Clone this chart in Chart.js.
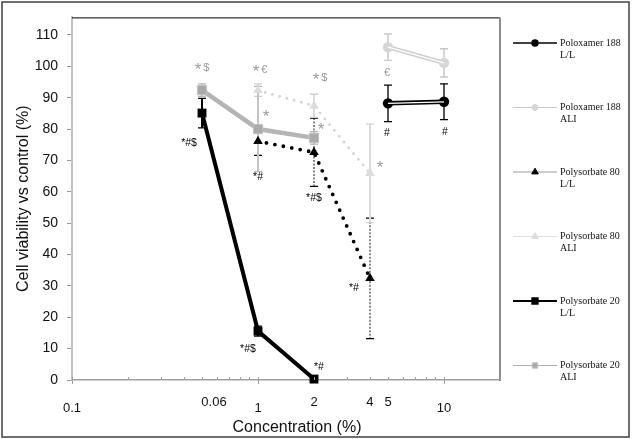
<!DOCTYPE html>
<html>
<head>
<meta charset="utf-8">
<title>Cell viability vs concentration</title>
<script src="https://cdn.jsdelivr.net/npm/chart.js@4.4.0/dist/chart.umd.js"></script>
<style>
    html, body { margin: 0; padding: 0; background: #fff; }
    canvas { display: block; }
</style>
</head>
<body>
<canvas id="viabilityChart" width="632" height="439"></canvas>
<script>
// Concentrations (%) per surfactant
var concP188 = [5, 10];
var concP80 = [1, 2, 4];
var concP20 = [0.5, 1, 2];

// Cell viability vs control (%) and error
var p188LL = [88.2, 88.7];
var p188LLErr = [5.8, 5.7];
var p188ALI = [106.1, 101.1];
var p188ALIErr = [4.2, 4.5];
var p80LL = [76.1, 72.6, 32.4];
var p80LLErr = [4.5, 10.9, 19.2];
var p80ALI = [92.4, 87.4, 65.9];
var p80ALIErr = [2, 3.7, 15.7];
var p20LL = [85.1, 15.6, 0.3];
var p20LLErr = [4.7, 1.6, 0];
var p20ALI = [92.4, 80.0, 77.2];
var p20ALIErr = [2, 13.6, 2];

// Axis ticks
var yTicks = [0, 10, 20, 30, 40, 50, 60, 70, 80, 90, 100, 110];
var xTickValues = [0.1, 0.58, 1, 2, 4, 5, 10];
var xTickLabels = ['0.1', '0.06', '1', '2', '4', '5', '10'];
var xTickRaised = [false, true, false, true, true, true, false];
var xMinorTicks = [0.2, 0.3, 0.4, 0.5, 0.6, 0.7, 0.8, 0.9, 2, 3, 4, 5, 6, 7, 8, 9, 20];
var xMajorTicks = [0.1, 1, 10];

// Significance marks next to points
var sigMarks = [
    { key: 'p20ALI', i: 0, text: '*$', dx: 0, dy: -22 },
    { key: 'p80ALI', i: 0, text: '*€', dx: 2, dy: -20 },
    { key: 'p20ALI', i: 1, text: '*', dx: 8, dy: -14 },
    { key: 'p80ALI', i: 1, text: '*$', dx: 6, dy: -28 },
    { key: 'p20ALI', i: 2, text: '*', dx: 7, dy: -10 },
    { key: 'p80ALI', i: 2, text: '*', dx: 10, dy: -7 },
    { key: 'p188ALI', i: 0, text: '€', dx: -1, dy: 26 },
    { key: 'p188LL', i: 0, text: '#', dx: -1, dy: 30 },
    { key: 'p188LL', i: 1, text: '#', dx: 1, dy: 30 },
    { key: 'p20LL', i: 0, text: '*#$', dx: -13, dy: 30 },
    { key: 'p80LL', i: 0, text: '*#', dx: 0, dy: 36 },
    { key: 'p80LL', i: 1, text: '*#$', dx: 0, dy: 46 },
    { key: 'p80LL', i: 2, text: '*#', dx: -16, dy: 10 },
    { key: 'p20LL', i: 1, text: '*#$', dx: -10, dy: 18 },
    { key: 'p20LL', i: 2, text: '*#', dx: 5, dy: -12 }
];

function pts(xs, ys) {
    return xs.map(function(x, i) { return { x: x, y: ys[i] }; });
}

var SANS = '"Liberation Sans", Arial, sans-serif';
var SERIF = '"Liberation Serif", "Times New Roman", serif';
var GREY_MARK = '#9a9a9a';

var datasets = [
    {
        key: 'p188LL', label: 'Poloxamer 188 L/L', data: pts(concP188, p188LL),
        errors: p188LLErr, errColor: '#555', errWidth: 2, capColor: '#000',
        borderColor: '#000', borderWidth: 4.5, pointStyle: 'circle', pointRadius: 5.2,
        pointBorderWidth: 0,
        pointBackgroundColor: '#000', pointBorderColor: '#000', order: 6,
        legendLine: '#000', legendWidth: 1.5, markColor: '#000'
    },
    {
        key: 'p188ALI', label: 'Poloxamer 188 ALI', data: pts(concP188, p188ALI),
        errors: p188ALIErr, errColor: '#d6d6d6', errWidth: 2, capColor: '#c8c8c8',
        borderColor: '#cfcfcf', borderWidth: 4.5, pointStyle: 'circle', pointRadius: 5.2,
        pointBorderWidth: 0,
        pointBackgroundColor: '#d6d6d6', pointBorderColor: '#d6d6d6', order: 6,
        legendLine: '#c8c8c8', legendWidth: 1, markColor: GREY_MARK
    },
    {
        key: 'p80LL', label: 'Polysorbate 80 L/L', data: pts(concP80, p80LL),
        errors: p80LLErr, errColor: '#8a8a8a', errWidth: 2, errDash: [2, 1.5], capColor: '#000',
        borderColor: '#000', borderWidth: 3.8, borderDash: [0, 8.6], borderCapStyle: 'round',
        pointStyle: 'triangle', pointRadius: 5.5, pointBorderWidth: 0,
        pointBackgroundColor: '#000', pointBorderColor: '#000', order: 3,
        legendLine: '#999', legendWidth: 1, markColor: '#000'
    },
    {
        key: 'p80ALI', label: 'Polysorbate 80 ALI', data: pts(concP80, p80ALI),
        errors: p80ALIErr, errColor: '#dadada', errWidth: 2, capColor: '#cfcfcf',
        borderColor: '#d6d6d6', borderWidth: 3, borderDash: [0, 7.5], borderCapStyle: 'round',
        pointStyle: 'triangle', pointRadius: 5.5, pointBorderWidth: 0,
        pointBackgroundColor: '#dcdcdc', pointBorderColor: '#dcdcdc', order: 5,
        legendLine: '#dedede', legendWidth: 1, markColor: GREY_MARK
    },
    {
        key: 'p20LL', label: 'Polysorbate 20 L/L', data: pts(concP20, p20LL),
        errors: p20LLErr, errColor: '#000', errWidth: 2, capColor: '#000',
        borderColor: '#000', borderWidth: 4, pointStyle: 'rect', pointRadius: 6.3,
        pointBorderWidth: 0,
        pointBackgroundColor: '#000', pointBorderColor: '#000', order: 1,
        legendLine: '#000', legendWidth: 2, markColor: '#000'
    },
    {
        key: 'p20ALI', label: 'Polysorbate 20 ALI', data: pts(concP20, p20ALI),
        errors: p20ALIErr, errColor: '#c4c4c4', errWidth: 2, capColor: '#b8b8b8',
        borderColor: '#b4b4b4', borderWidth: 4.5, pointStyle: 'rect', pointRadius: 6.5,
        pointBackgroundColor: '#aaaaaa', pointBorderColor: '#c2c2c2', pointBorderWidth: 1, order: 2,
        legendLine: '#b0b0b0', legendWidth: 1, markColor: GREY_MARK
    },
    // white core of the double lines of the Poloxamer series
    {
        key: 'p188LLcore', core: true, data: pts(concP188, p188LL),
        borderColor: '#fff', borderWidth: 1.3, pointRadius: 0, order: 0
    },
    {
        key: 'p188ALIcore', core: true, data: pts(concP188, p188ALI),
        borderColor: '#fff', borderWidth: 1.3, pointRadius: 0, order: 0
    }
];
datasets.forEach(function(ds) { ds.clip = false; ds.tension = 0; });

function findMeta(chart, key) {
    var idx = chart.data.datasets.findIndex(function(d) { return d.key === key; });
    return chart.getDatasetMeta(idx);
}

// Vertical error bars with caps
var errorBarPlugin = {
    id: 'errorBars',
    beforeDatasetsDraw: function(chart) {
        var ctx = chart.ctx;
        var yScale = chart.scales.y;
        chart.data.datasets.forEach(function(ds, di) {
            if (!ds.errors) return;
            var meta = chart.getDatasetMeta(di);
            ds.errors.forEach(function(e, i) {
                if (!e) return;
                var pt = meta.data[i];
                var v = ds.data[i].y;
                var top = yScale.getPixelForValue(v + e);
                var bot = yScale.getPixelForValue(v - e);
                ctx.save();
                ctx.strokeStyle = ds.errColor;
                ctx.lineWidth = ds.errWidth;
                ctx.setLineDash(ds.errDash || []);
                ctx.beginPath();
                ctx.moveTo(pt.x, top);
                ctx.lineTo(pt.x, bot);
                ctx.stroke();
                ctx.setLineDash([]);
                ctx.strokeStyle = ds.capColor;
                ctx.lineWidth = 1.3;
                ctx.beginPath();
                ctx.moveTo(pt.x - 4, top); ctx.lineTo(pt.x + 4, top);
                ctx.moveTo(pt.x - 4, bot); ctx.lineTo(pt.x + 4, bot);
                ctx.stroke();
                ctx.restore();
            });
        });
    }
};

// Frame, x ticks/labels, significance marks and the legend
var decorPlugin = {
    id: 'decor',
    afterDraw: function(chart) {
        var ctx = chart.ctx;
        var area = chart.chartArea;
        var xScale = chart.scales.x;
        ctx.save();

        // outer frame
        ctx.strokeStyle = '#404040';
        ctx.lineWidth = 1.5;
        ctx.strokeRect(2, 2, 627, 435);

        // plot area top and right borders
        ctx.strokeStyle = '#000';
        ctx.lineWidth = 1;
        ctx.beginPath();
        ctx.moveTo(area.left, area.top + 0.5);
        ctx.lineTo(area.right, area.top + 0.5);
        ctx.stroke();
        ctx.strokeStyle = '#8c8c8c';
        ctx.lineWidth = 2;
        ctx.beginPath();
        ctx.moveTo(area.right, area.top);
        ctx.lineTo(area.right, area.bottom + 1);
        ctx.stroke();

        // x tick marks
        ctx.strokeStyle = '#a0a0a0';
        ctx.lineWidth = 1;
        ctx.beginPath();
        xMinorTicks.forEach(function(v) {
            var px = Math.round(xScale.getPixelForValue(v)) + 0.5;
            ctx.moveTo(px, area.bottom - 3);
            ctx.lineTo(px, area.bottom);
        });
        xMajorTicks.forEach(function(v) {
            var px = Math.round(xScale.getPixelForValue(v)) + 0.5;
            ctx.moveTo(px, area.bottom - 3);
            ctx.lineTo(px, area.bottom + 4);
        });
        ctx.stroke();

        // x tick labels
        ctx.fillStyle = '#111';
        ctx.font = '13px ' + SANS;
        ctx.textAlign = 'center';
        ctx.textBaseline = 'middle';
        xTickValues.forEach(function(v, i) {
            var px = xScale.getPixelForValue(v);
            ctx.fillText(xTickLabels[i], px, xTickRaised[i] ? area.bottom + 22 : area.bottom + 28);
        });

        // x title
        ctx.font = '16px ' + SANS;
        ctx.fillText('Concentration (%)', 297, 428);

        // significance marks
        sigMarks.forEach(function(m) {
            var meta = findMeta(chart, m.key);
            var ds = chart.data.datasets[meta.index];
            var pt = meta.data[m.i];
            var x = pt.x + m.dx;
            var y = pt.y + m.dy;
            ctx.fillStyle = ds.markColor;
            if (ds.markColor === '#000') {
                ctx.font = '10.5px ' + SANS;
                ctx.textAlign = 'center';
                ctx.fillText(m.text, x, y);
            } else {
                var first = m.text.charAt(0);
                var rest = m.text.slice(1);
                var bigFont = (first === '*') ? '17px ' + SANS : '11px ' + SANS;
                ctx.font = bigFont;
                var w1 = ctx.measureText(first).width;
                ctx.font = '11px ' + SANS;
                var w2 = ctx.measureText(rest).width + (rest ? 2 : 0);
                var start = x - (w1 + w2) / 2;
                ctx.textAlign = 'left';
                ctx.font = bigFont;
                ctx.fillText(first, start, first === '*' ? y + 2 : y);
                if (rest) {
                    ctx.font = '11px ' + SANS;
                    ctx.fillText(rest, start + w1 + 2, y);
                }
            }
        });

        // legend
        var entries = chart.data.datasets.filter(function(d) { return !d.core; });
        entries.forEach(function(ds, i) {
            var y = 43 + 64.5 * i;
            ctx.strokeStyle = ds.legendLine;
            ctx.lineWidth = ds.legendWidth;
            ctx.setLineDash([]);
            ctx.beginPath();
            ctx.moveTo(513, y);
            ctx.lineTo(557, y);
            ctx.stroke();
            ctx.fillStyle = ds.pointBackgroundColor;
            ctx.strokeStyle = ds.pointBorderColor;
            Chart.helpers.drawPoint(ctx, {
                pointStyle: ds.pointStyle,
                radius: ds.pointStyle === 'circle' ? 3 : 3.8,
                rotation: 0,
                borderWidth: 0.5
            }, 535, y);
            var cut = ds.label.lastIndexOf(' ');
            ctx.fillStyle = '#111';
            ctx.font = '10px ' + SERIF;
            ctx.textAlign = 'left';
            ctx.textBaseline = 'middle';
            ctx.fillText(ds.label.slice(0, cut), 560, y);
            ctx.fillText(ds.label.slice(cut + 1), 560, y + 12);
        });

        ctx.restore();
    }
};

new Chart(document.getElementById('viabilityChart'), {
    type: 'line',
    data: { datasets: datasets },
    options: {
        responsive: false,
        animation: false,
        layout: { padding: { top: 14, right: 132, left: 0, bottom: 0 } },
        plugins: {
            legend: { display: false },
            tooltip: { enabled: false }
        },
        scales: {
            x: {
                type: 'logarithmic',
                min: 0.1,
                max: 20,
                grid: { display: false },
                border: { color: '#a0a0a0', width: 1.5 },
                ticks: { display: false },
                afterFit: function(scale) { scale.height = 59; }
            },
            y: {
                min: 0,
                max: 115.6,
                grid: { drawOnChartArea: false, tickLength: 5, color: '#999' },
                border: { color: '#c2c2c2', width: 2 },
                ticks: {
                    padding: 9,
                    color: '#111',
                    font: { family: SANS, size: 14 }
                },
                afterBuildTicks: function(scale) {
                    scale.ticks = yTicks.map(function(v) { return { value: v }; });
                },
                afterFit: function(scale) { scale.width = 72; },
                title: {
                    display: true,
                    text: 'Cell viability vs control (%)',
                    color: '#111',
                    font: { family: SANS, size: 16 },
                    padding: { top: 14, bottom: 0 }
                }
            }
        }
    },
    plugins: [errorBarPlugin, decorPlugin]
});
</script>
</body>
</html>
